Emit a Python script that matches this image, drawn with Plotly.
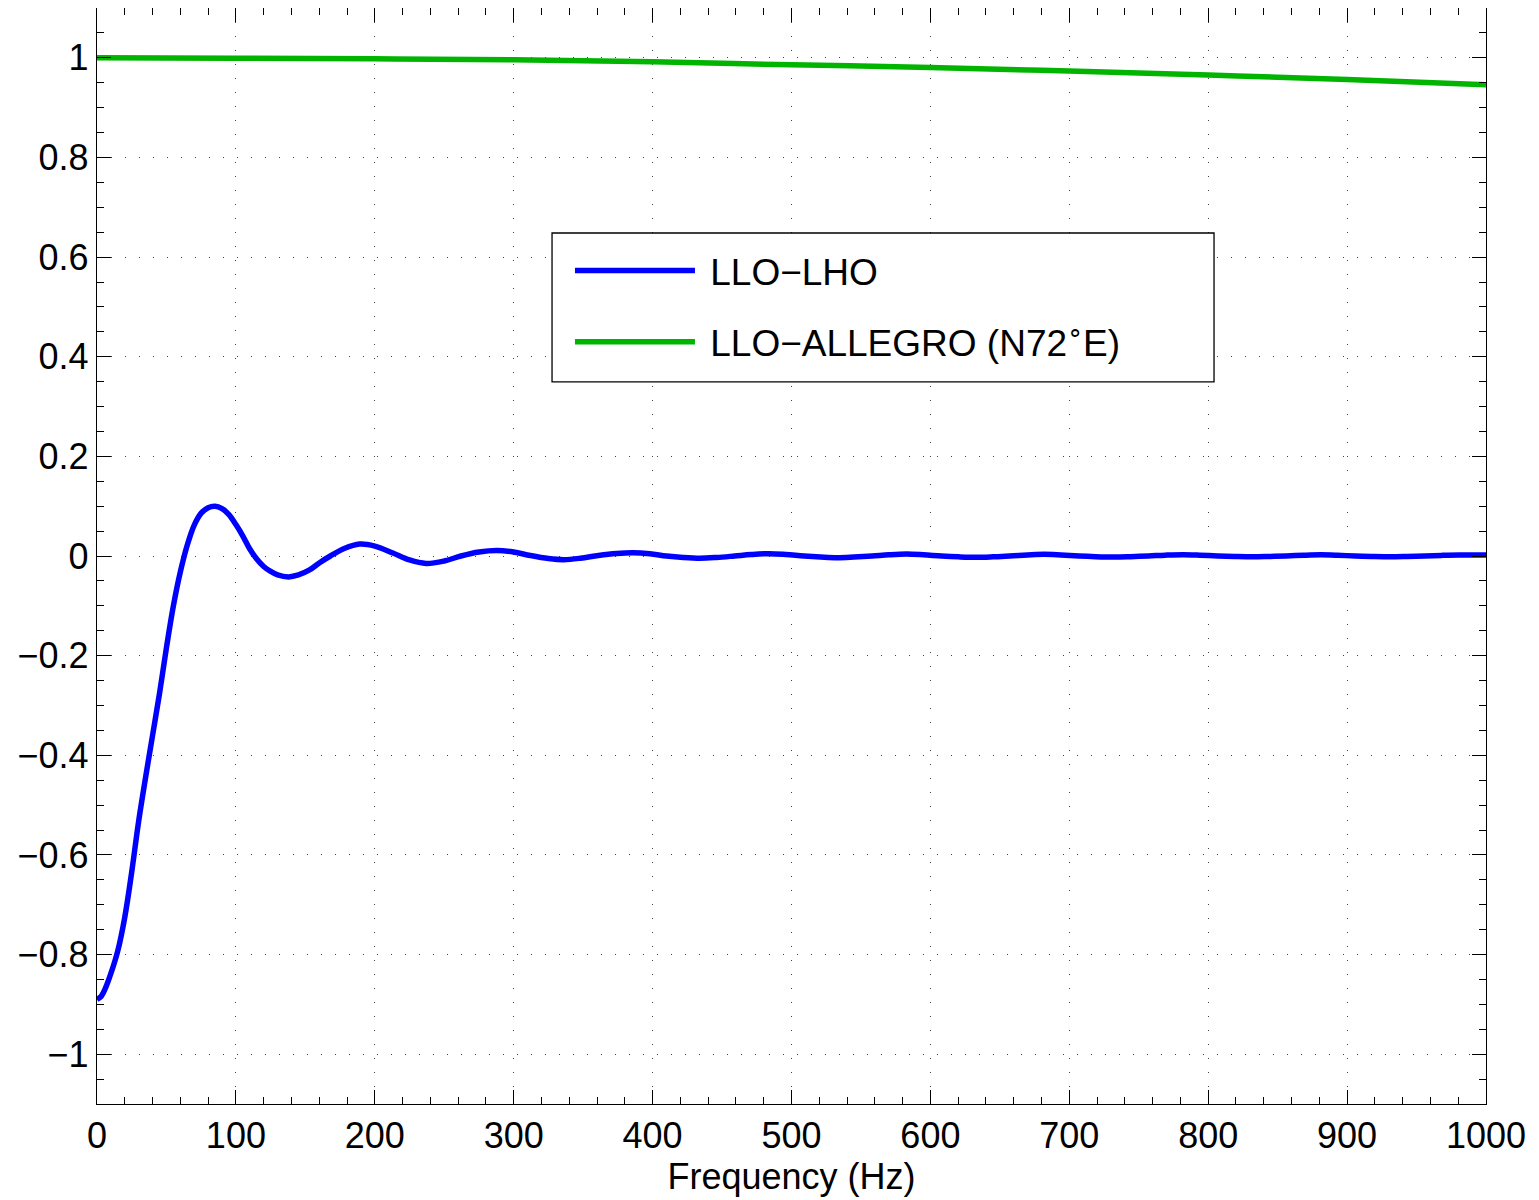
import plotly.graph_objects as go

# LLO-LHO overlap
freq_lho = [0, 3, 6, 10, 15, 20, 25, 30, 35, 40, 45, 50, 55, 60, 65, 70, 75, 80, 85, 90, 95,
            100, 105, 110, 115, 120, 125, 130, 138, 145, 153, 160, 168, 178, 189, 200, 213,
            225, 237, 250, 262, 275, 288, 300, 312, 325, 336, 348, 361, 374, 386, 398, 410,
            422, 434, 446, 459, 471, 484, 496, 509, 521, 533, 545, 558, 570, 583, 595, 608,
            620, 633, 645, 657, 670, 682, 694, 707, 719, 732, 744, 757, 769, 782, 794, 807,
            819, 832, 844, 856, 869, 881, 893, 906, 918, 931, 943, 956, 968, 981, 1000]
gamma_lho = [-0.890, -0.884, -0.868, -0.838, -0.792, -0.725, -0.634, -0.532, -0.444, -0.360,
             -0.276, -0.184, -0.100, -0.032, 0.022, 0.062, 0.086, 0.097, 0.100, 0.095, 0.083,
             0.063, 0.040, 0.014, -0.006, -0.021, -0.031, -0.038, -0.042, -0.038, -0.028,
             -0.014, 0.000, 0.015, 0.024, 0.020, 0.006, -0.008, -0.015, -0.010, 0.000,
             0.008, 0.011, 0.008, 0.001, -0.005, -0.0073, -0.0045, 0.001, 0.005, 0.0065,
             0.0045, 0.000, -0.003, -0.0045, -0.003, 0.000, 0.003, 0.0047, 0.003, 0.000,
             -0.002, -0.0033, -0.002, 0.000, 0.0025, 0.004, 0.0025, 0.000, -0.0017, -0.0027,
             -0.0017, 0.000, 0.002, 0.0033, 0.002, 0.000, -0.0013, -0.002, -0.0013, 0.000,
             0.0017, 0.0027, 0.0017, 0.000, -0.001, -0.0017, -0.001, 0.000, 0.0015, 0.0023,
             0.0015, 0.000, -0.0008, -0.0013, -0.0008, 0.000, 0.0012, 0.002, 0.0018]

# LLO-ALLEGRO (N72 E) overlap
freq_allegro = [0, 100, 200, 300, 400, 500, 600, 700, 800, 900, 1000]
gamma_allegro = [1.000, 0.9993, 0.998, 0.996, 0.992, 0.986, 0.9807, 0.9733, 0.9653, 0.9567, 0.946]

name_lho = "\u00a0LLO\u2212LHO"
name_allegro = "\u00a0LLO\u2212ALLEGRO (N72<sup>\u2218</sup>E)"

x_ticks = [0, 100, 200, 300, 400, 500, 600, 700, 800, 900, 1000]
y_ticks = [-1, -0.8, -0.6, -0.4, -0.2, 0, 0.2, 0.4, 0.6, 0.8, 1]

FONT = "Liberation Sans, Arial, Helvetica, sans-serif"

fig = go.Figure()
fig.add_trace(go.Scatter(x=freq_lho, y=gamma_lho, mode="lines", name=name_lho,
                         line=dict(color="rgb(0,0,255)", width=5.5, shape="spline", smoothing=1.0),
                         legendgroup="a"))
fig.add_trace(go.Scatter(x=freq_allegro, y=gamma_allegro, mode="lines", name=name_allegro,
                         line=dict(color="rgb(0,180,0)", width=5.5, shape="spline"),
                         legendgroup="b"))

axis_common = dict(
    showline=True, linecolor="black", linewidth=1.3, mirror="allticks",
    ticks="inside", ticklen=14, tickwidth=1.3, tickcolor="black",
    showgrid=True, gridcolor="rgba(0,0,0,0.75)", gridwidth=1, griddash="1px,13px",
    zeroline=False, tickfont=dict(family=FONT, size=36, color="black"),
)

fig.update_xaxes(range=[0, 1000], tickvals=x_ticks, ticktext=[str(v) for v in x_ticks],
                 minor=dict(dtick=20, tick0=0, ticks="inside", ticklen=7, tickwidth=1.3,
                            tickcolor="black", showgrid=False),
                 title=dict(text="Frequency (Hz)", font=dict(family=FONT, size=36, color="black"),
                            standoff=2),
                 **axis_common)
fig.update_yaxes(range=[-1.1, 1.1], tickvals=y_ticks,
                 ticktext=[("\u2212" if v < 0 else "") + ("%g" % abs(v)) for v in y_ticks],
                 minor=dict(dtick=0.05, tick0=0, ticks="inside", ticklen=7, tickwidth=1.3,
                            tickcolor="black", showgrid=False),
                 **axis_common)

# legend frame (MATLAB-style box, wider than the entries)
fig.add_shape(type="rect", xref="paper", yref="paper",
              x0=0.3276, x1=0.8042, y0=0.6588, y1=0.7947,
              line=dict(color="black", width=1.3), fillcolor="white", layer="above")

fig.update_layout(
    width=1539, height=1200,
    margin=dict(l=89, r=61, t=0, b=104),
    paper_bgcolor="white", plot_bgcolor="white",
    font=dict(family=FONT, size=36, color="black"),
    legend=dict(x=0.3405, y=0.7883, xanchor="left", yanchor="top",
                bgcolor="rgba(0,0,0,0)", borderwidth=0,
                font=dict(family=FONT, size=37, color="black"),
                tracegroupgap=20, itemwidth=120, traceorder="grouped"),
    showlegend=True,
)

fig.write_html("out.html")
